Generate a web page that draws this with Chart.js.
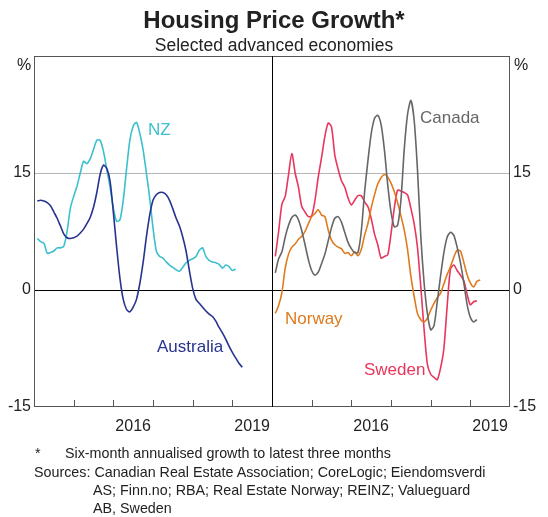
<!DOCTYPE html>
<html>
<head>
<meta charset="utf-8">
<script src="https://cdn.jsdelivr.net/npm/chart.js@4.4.1/dist/chart.umd.min.js"></script>
<style>
body{margin:0;background:#fff;font-family:"Liberation Sans",Arial,sans-serif;color:#222}
#page{position:relative;width:548px;height:517px;overflow:hidden}
#page canvas{position:absolute;left:0;top:0}
.t{position:absolute;white-space:nowrap;line-height:1}
.f{position:absolute;white-space:nowrap;line-height:1;font-size:14.3px}
</style>
</head>
<body>
<div id="page">
<canvas id="chart" width="548" height="517"></canvas>
<div class="t" style="left:0;width:548px;top:8px;text-align:center;font-weight:bold;font-size:24px">Housing Price Growth*</div>
<div class="t" style="left:0;width:548px;top:37px;text-align:center;font-size:17.5px">Selected advanced economies</div>
<div class="t" style="left:17px;top:57px;font-size:16px">%</div>
<div class="t" style="left:514px;top:57px;font-size:16px">%</div>
<div class="t" style="left:148px;top:121px;font-size:17px;color:#3cbfcf">NZ</div>
<div class="t" style="left:157px;top:338px;font-size:17px;color:#26338f">Australia</div>
<div class="t" style="left:420px;top:109px;font-size:17px;color:#666">Canada</div>
<div class="t" style="left:285px;top:310px;font-size:17px;color:#e07a1f">Norway</div>
<div class="t" style="left:364px;top:361px;font-size:17px;color:#e9365c">Sweden</div>
<div class="f" style="left:35px;top:446px">*</div>
<div class="f" style="left:65px;top:446px">Six-month annualised growth to latest three months</div>
<div class="f" style="left:34px;top:465px">Sources: Canadian Real Estate Association; CoreLogic; Eiendomsverdi</div>
<div class="f" style="left:93px;top:483px">AS; Finn.no; RBA; Real Estate Norway; REINZ; Valueguard</div>
<div class="f" style="left:93px;top:501px">AB, Sweden</div>
</div>
<script>
// months counted from Jan 2014 (0); right panel shifted by 72 months
const panelShift=72;
const yearTicks=[12,24,36,48,60,72,84,96,108,120,132];
const yearLabels=[{value:30,label:'2016'},{value:66,label:'2019'},{value:102,label:'2016'},{value:138,label:'2019'}];
const yTicks=[-15,0,15,30];

const australiaStart=1;
const australia=[11.4,11.5,11.4,11.2,10.8,10.0,9.2,8.2,7.2,6.7,6.6,6.7,6.9,7.3,7.8,8.5,9.3,10.6,12.5,14.8,16.0,15.6,14.0,10.0,5.5,1.5,-1.2,-2.5,-2.8,-2.2,-1.2,0.8,3.5,6.8,9.6,11.5,12.2,12.5,12.5,12.2,11.5,10.4,9.2,8.2,6.8,5.0,2.5,0.2,-1.2,-1.7,-2.2,-2.7,-3.1,-3.4,-4.0,-4.8,-5.5,-6.3,-7.2,-8.0,-8.7,-9.4,-9.9];
const nzStart=1;
const nz=[6.6,6.2,6.0,4.7,4.8,5.0,5.4,5.4,5.6,7.5,10.5,12.0,13.3,15.0,16.5,16.2,16.8,18.0,19.2,19.2,17.8,15.5,13.2,10.5,8.8,9.0,11.5,15.5,19.2,21.0,21.5,20.1,18.0,15.0,11.8,8.0,5.0,4.3,4.1,3.6,3.2,2.9,2.6,2.4,2.9,3.5,3.8,4.0,4.3,5.1,5.4,4.3,3.8,3.6,3.5,3.3,2.8,3.2,3.0,2.5,2.7];
const canadaStart=1;
const canada=[2.2,4.0,4.9,6.8,8.3,9.3,9.6,9.0,7.6,5.8,3.9,2.5,1.9,2.3,3.4,4.6,6.3,8.0,9.2,9.4,8.7,7.4,6.1,5.3,4.8,4.8,7.5,12.5,16.5,20.0,22.0,22.4,21.2,18.0,13.5,10.0,8.1,8.3,11.5,18.0,22.5,24.3,21.8,15.5,7.0,1.0,-3.0,-5.1,-4.6,-1.5,1.8,4.8,6.8,7.4,7.0,5.5,3.5,1.0,-1.8,-3.5,-4.1,-3.8];
const swedenStart=1;
const sweden=[4.3,7.5,11.0,12.0,14.8,17.5,15.0,13.2,10.7,10.0,9.4,9.5,11.5,14.5,17.0,19.7,21.4,20.9,17.3,15.5,14.0,13.2,11.8,10.9,11.5,12.1,12.1,11.3,10.7,9.2,7.2,5.8,4.1,4.3,4.5,7.2,10.5,12.8,12.7,12.5,12.2,10.5,8.5,5.5,0.5,-5.0,-9.5,-10.8,-11.2,-11.5,-10.0,-7.5,-2.0,2.7,3.2,2.5,1.9,1.2,-0.5,-1.9,-1.5,-1.4];
const norwayStart=1;
const norway=[-3.0,-2.0,-0.3,2.8,4.6,5.5,5.9,6.5,6.9,7.5,8.5,9.4,9.8,10.3,9.6,9.4,7.7,6.4,5.8,5.5,5.3,4.7,4.8,4.4,4.9,4.4,5.2,7.0,8.5,10.5,12.2,13.6,14.4,14.8,14.5,13.7,12.6,11.2,9.5,7.7,5.2,1.8,-0.8,-3.0,-3.8,-4.1,-3.6,-2.6,-1.7,-1.0,-0.4,0.8,2.0,3.0,4.2,5.1,5.0,3.6,2.0,0.9,0.4,1.1,1.3];

const pts=(vals,start)=>vals.map((v,i)=>({x:start+i,y:v}));
const line=(label,data,color)=>({label,data,borderColor:color,borderWidth:1.6,pointRadius:0,tension:0.25,fill:false});

const frame={
  id:'frame',
  afterDraw(chart){
    const {ctx,chartArea:a,scales:{x}}=chart;
    ctx.save();
    ctx.strokeStyle='#555';
    ctx.lineWidth=1;
    ctx.strokeRect(a.left+0.5,a.top+0.5,a.right-a.left-1,a.bottom-a.top-1);
    ctx.beginPath();
    yearTicks.forEach(v=>{const px=Math.round(x.getPixelForValue(v))+0.5;ctx.moveTo(px,a.bottom);ctx.lineTo(px,a.bottom-7);});
    ctx.stroke();
    ctx.strokeStyle='#000';
    ctx.beginPath();
    const mid=Math.round(x.getPixelForValue(panelShift))+0.5;
    ctx.moveTo(mid,a.top);ctx.lineTo(mid,a.bottom);
    ctx.stroke();
    ctx.restore();
  }
};

const yAxis=(position)=>({
  position,min:-15,max:30,
  afterBuildTicks:s=>{s.ticks=yTicks.map(v=>({value:v}));},
  afterFit:s=>{s.width=position==='left'?34:38;},
  border:{display:false},
  grid:{display:position==='left',drawTicks:false,
    color:c=>c.tick.value===0?'#000':c.tick.value===15?'#b5b5b5':'transparent'},
  ticks:{padding:3,color:'#222',font:{size:16,family:'"Liberation Sans", Arial, sans-serif'},
    callback:v=>v===30?'':String(v)}
});

new Chart(document.getElementById('chart'),{
  type:'line',
  data:{datasets:[
    line('Australia',pts(australia,australiaStart),'#26338f'),
    line('NZ',pts(nz,nzStart),'#3cbfcf'),
    line('Canada',pts(canada,canadaStart+panelShift),'#666666'),
    line('Norway',pts(norway,norwayStart+panelShift),'#e07a1f'),
    line('Sweden',pts(sweden,swedenStart+panelShift),'#e9365c')
  ]},
  options:{
    responsive:false,animation:false,
    layout:{padding:{top:56,bottom:70,left:0,right:0}},
    plugins:{legend:{display:false},tooltip:{enabled:false}},
    scales:{
      x:{type:'linear',min:0,max:144,
        afterBuildTicks:s=>{s.ticks=yearLabels.map(t=>({value:t.value}));},
        afterFit:s=>{s.height=40;},
        border:{display:false},
        grid:{display:false},
        ticks:{padding:2,maxRotation:0,color:'#222',font:{size:16,family:'"Liberation Sans", Arial, sans-serif'},
          callback:v=>(yearLabels.find(t=>t.value===v)||{}).label||''}},
      y:yAxis('left'),
      y2:yAxis('right')
    }
  },
  plugins:[frame]
});
</script>
</body>
</html>
